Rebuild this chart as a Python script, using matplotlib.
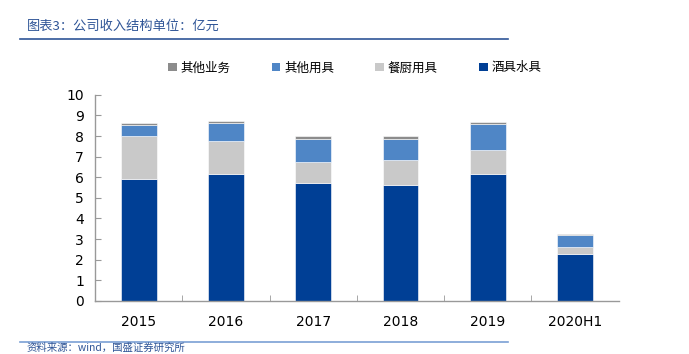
import matplotlib
matplotlib.use("Agg")
import matplotlib.pyplot as plt
from matplotlib.patches import Patch
from matplotlib.lines import Line2D
import numpy as np

plt.rcParams['font.family'] = ['DejaVu Sans', 'Noto Sans CJK SC']

# revenue structure, 100 million yuan
years = ["2015", "2016", "2017", "2018", "2019", "2020H1"]
drinkware = [5.94, 6.16, 5.70, 5.62, 6.17, 2.27]      # 酒具水具
kitchenware = [2.04, 1.62, 1.03, 1.24, 1.14, 0.35]    # 餐厨用具
other_tools = [0.56, 0.87, 1.15, 1.00, 1.28, 0.57]    # 其他用具
other_biz = [0.08, 0.10, 0.11, 0.12, 0.10, 0.08]      # 其他业务

series_names = ["酒具水具", "餐厨用具", "其他用具", "其他业务"]
colors = ["#003f95", "#c9c9c9", "#4f86c6", "#8c8c8c"]

fig = plt.figure(figsize=(6.89, 3.54), dpi=100)
ax = fig.add_axes([0.138, 0.150, 0.760, 0.582])

x = np.arange(len(years))
bottom = np.zeros(len(years))
for vals, c in zip([drinkware, kitchenware, other_tools, other_biz], colors):
    ax.bar(x, vals, width=0.41, bottom=bottom, color=c, edgecolor="white", linewidth=0.4, zorder=2)
    bottom += np.array(vals)

ax.set_xlim(-0.5, len(years) - 0.5)
ax.set_ylim(0, 10)
ax.set_yticks(range(0, 11))
ax.set_xticks(x)
ax.set_xticklabels(years)
ax.set_xticks(np.arange(0.5, len(years) - 0.5, 1), minor=True)
ax.tick_params(axis="x", which="major", length=0, pad=10, labelsize=10)
ax.tick_params(axis="x", which="minor", direction="in", length=4, color="#999999")
ax.tick_params(axis="y", direction="in", length=4, color="#999999", labelsize=10, pad=8)

for s in ["top", "right"]:
    ax.spines[s].set_visible(False)
for s in ["left", "bottom"]:
    ax.spines[s].set_color("#999999")
    ax.spines[s].set_linewidth(1.0)

# legend in reverse stacking order
handles = [Patch(facecolor=c, edgecolor="none") for c in colors][::-1]
labels = series_names[::-1]
fig.legend(handles, labels, loc="center", bbox_to_anchor=(0.515, 0.808), ncol=4,
           frameon=False, prop={"family": "Noto Sans CJK SC", "size": 9},
           handlelength=0.7, handleheight=0.7, handletextpad=0.3, columnspacing=3.3)

# header and footer
fig.text(0.039, 0.925, "图表3：公司收入结构单位：亿元", fontsize=9.5, color="#2f5597",
         style="italic", family=["Noto Sans CJK SC", "DejaVu Sans"], va="center")
fig.add_artist(Line2D([0.029, 0.737], [0.890, 0.890], color="#2f5597", linewidth=1.2))
fig.add_artist(Line2D([0.029, 0.737], [0.035, 0.035], color="#7a9fd4", linewidth=1.2))
fig.text(0.039, 0.004, "资料来源：wind，国盛证券研究所", fontsize=7.5, color="#2f5597",
         style="italic", family=["Noto Sans CJK SC", "DejaVu Sans"], va="bottom")

fig.savefig("out.png", dpi=100)
